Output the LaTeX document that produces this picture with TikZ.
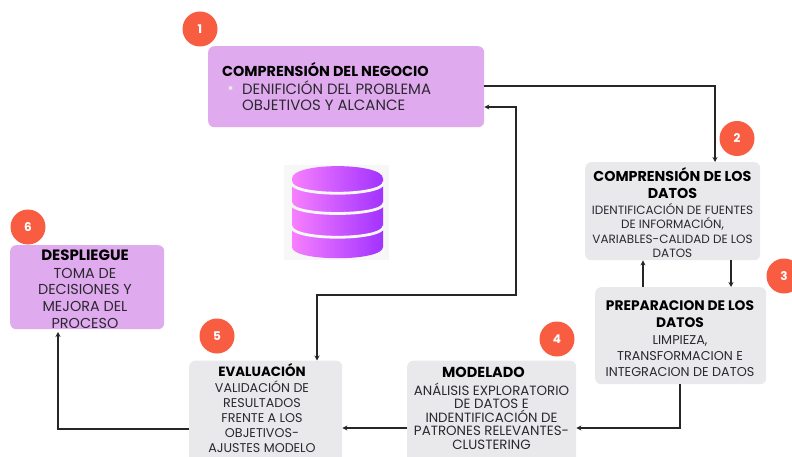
\documentclass[tikz,border=0pt]{standalone}
\usepackage{fontspec}
\setmainfont{Poppins}
\usetikzlibrary{arrows.meta,calc}
\definecolor{lila}{HTML}{E0AAEE}
\definecolor{gris}{HTML}{E9E9EB}
\definecolor{coral}{HTML}{F85D42}
\definecolor{dbbg}{HTML}{F7F7F7}
\definecolor{dbl}{HTML}{F77FFF}
\definecolor{dbr}{HTML}{A232FF}
\definecolor{tinta}{HTML}{2B2830}
\newcommand{\hd}[2]{{\fontsize{#1}{#1}\selectfont\bfseries\color{black}#2}}
\tikzset{
  boxbase/.style={rounded corners=6pt,inner sep=0pt,anchor=north west},
  lilabox/.style={boxbase,fill=lila},
  grisbox/.style={boxbase,fill=gris},
  badge/.style={circle,fill=coral,text=white,minimum size=35pt,inner sep=0pt,font=\fontsize{12}{14}\selectfont\bfseries},
  txt/.style={align=center,inner sep=0pt,text=tinta},
  con/.style={draw=black!85,line width=1.2pt,-{Stealth[length=5pt,width=5pt]}},
  con2/.style={draw=black!85,line width=1.2pt,{Stealth[length=5pt,width=5pt]}-{Stealth[length=5pt,width=5pt]}}
}
\begin{document}
\begin{tikzpicture}[x=1pt,y=-1pt]
\useasboundingbox (0,0) rectangle (792,457);
\clip (0,0) rectangle (792,457);
% boxes
\node[lilabox,minimum width=276pt,minimum height=81pt] (b1) at (208,46) {};
\node[grisbox,minimum width=175pt,minimum height=98pt] (b2) at (585,162) {};
\node[grisbox,minimum width=171pt,minimum height=97pt] (b3) at (595,287) {};
\node[grisbox,minimum width=169pt,minimum height=103pt] (b4) at (407,360.5) {};
\node[grisbox,minimum width=153pt,minimum height=103pt] (b5) at (189,360.5) {};
\node[lilabox,minimum width=154pt,minimum height=84pt] (b6) at (10,245) {};
% badges
\node[badge] (n1) at (200,29) {1};
\node[badge] (n2) at (737,138.5) {2};
\node[badge] (n3) at (784,276) {3};
\node[badge] (n4) at (557,339) {4};
\node[badge] (n5) at (217,336) {5};
\node[badge] (n6) at (28,227) {6};
% texts
\node[anchor=west,inner sep=0pt] (t1h) at (222,70) {\hd{14.4}{COMPRENSIÓN DEL NEGOCIO}};
\node[circle,fill=gris,inner sep=0pt,minimum size=4pt] (t1b) at (230.5,88) {};
\node[anchor=west,inner sep=0pt,text=tinta,font=\fontsize{14.9}{15}\selectfont] (t1a) at (242,88) {DENIFICIÓN DEL PROBLEMA};
\node[anchor=west,inner sep=0pt,text=tinta,font=\fontsize{14.9}{15}\selectfont] (t1c) at (242,105) {OBJETIVOS Y ALCANCE};
\node[txt,font=\fontsize{12}{14.3}\selectfont] (t2) at (672.5,212.5) {\hd{14.3}{COMPRENSIÓN DE LOS}\\[2.7pt]\hd{14.3}{DATOS}\\[1.7pt]IDENTIFICACIÓN DE FUENTES\\DE INFORMACIÓN,\\VARIABLES-CALIDAD DE LOS\\DATOS};
\node[txt,font=\fontsize{12.8}{16}\selectfont] (t3) at (680,339) {\hd{13.8}{PREPARACION DE LOS}\\[1pt]\hd{13.8}{DATOS}\\[1pt]LIMPIEZA,\\TRANSFORMACION E\\INTEGRACION DE DATOS};
\node[txt,font=\fontsize{13.4}{13.5}\selectfont] (t4) at (491.5,408) {\hd{14.5}{MODELADO}\hspace*{16pt}\\[4.5pt]ANÁLISIS EXPLORATORIO\\DE DATOS E\\INDENTIFICACIÓN DE\\PATRONES RELEVANTES-\\CLUSTERING};
\node[txt,font=\fontsize{12.7}{15}\selectfont] (t5) at (262,408.5) {\hd{13.4}{EVALUACIÓN}\\[1pt]VALIDACIÓN DE\\RESULTADOS\\FRENTE A LOS\\OBJETIVOS-\\AJUSTES MODELO};
\node[txt,font=\fontsize{14.4}{16.7}\selectfont] (t6) at (85,289) {\hd{15}{DESPLIEGUE}\\[1.3pt]TOMA DE\\DECISIONES Y\\MEJORA DEL\\PROCESO};
% database icon
\fill[dbbg] (284,165) rectangle (389,260);
\shade[left color=dbl,right color=dbr]
  (292,178.5) .. controls (292,162) and (383,162) .. (383,178.5)
  -- (383,247) .. controls (383,262) and (292,262) .. (292,247) -- cycle;
\draw[dbbg,line width=2.8pt] (291,182) .. controls (291,197) and (384,197) .. (384,182);
\draw[dbbg,line width=2.8pt] (291,203) .. controls (291,217) and (384,217) .. (384,203);
\draw[dbbg,line width=2.8pt] (291,226) .. controls (291,241) and (384,241) .. (384,226);
% connectors
\coordinate (c1a) at (484,86);
\coordinate (c1b) at (715,86);
\draw[con] (c1a) -- (c1b) -- (b2.north -| c1b);
\coordinate (c32) at (643,287);
\draw[con] (c32) -- (b2.south -| c32);
\coordinate (c23) at (731,260);
\draw[con] (c23) -- (b3.north -| c23);
\coordinate (c34) at (680,428);
\draw[con] (b3.south -| c34) -- (c34) -- (c34 -| b4.east);
\draw[con] (b4.west |- c34) -- (b5.east |- c34);
\coordinate (c56) at (58,429);
\coordinate (c6b) at (58,332);
\draw[con] (b5.west |- c56) -- (c56) -- (c6b);
\coordinate (c5t) at (317,295);
\coordinate (c1r) at (516,295);
\coordinate (c1s) at (516,107);
\draw[con2] (b5.north -| c5t) -- (c5t) -- (c1r) -- (c1s) -- (b1.east |- c1s);
\end{tikzpicture}
\end{document}
